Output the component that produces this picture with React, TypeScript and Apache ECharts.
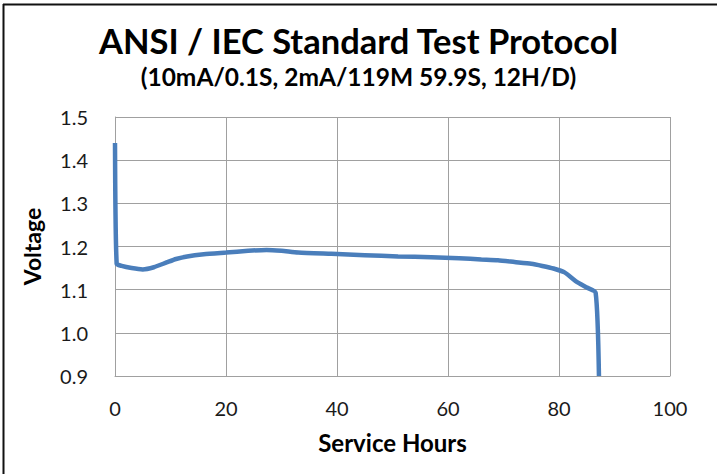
import React, { useEffect, useRef } from "react";
import * as echarts from "echarts";

const titleText = "ANSI / IEC Standard Test Protocol";
const subtitleText = "(10mA/0.1S, 2mA/119M 59.9S, 12H/D)";
const xAxisName = "Service Hours";
const yAxisName = "Voltage";

const hours = [0, 0.3, 1.2, 3, 5, 7, 9.3, 11, 13, 16, 20, 24, 27.3, 30, 33, 39, 45, 51, 57, 62, 66, 69, 72, 75, 77, 79, 81, 83, 85, 86.6, 87.2];
const volts = [1.44, 1.16, 1.155, 1.15, 1.147, 1.152, 1.163, 1.171, 1.177, 1.182, 1.186, 1.19, 1.192, 1.19, 1.186, 1.183, 1.18, 1.177, 1.175, 1.173, 1.17, 1.168, 1.164, 1.16, 1.155, 1.149, 1.14, 1.12, 1.105, 1.093, 0.9];

export default function App() {
  const ref = useRef<HTMLDivElement>(null);
  useEffect(() => {
    if (!ref.current) return;
    const chart = echarts.init(ref.current, null, { renderer: "svg" });
    const data = hours.map((h, i) => [h, volts[i]]);
    chart.setOption({
      animation: false,
      backgroundColor: "#ffffff",
      title: [
        {
          text: titleText,
          left: "center",
          top: 23,
          padding: 0,
          textStyle: { fontFamily: "Lato", fontWeight: "bold", fontSize: 34.5, lineHeight: 34, color: "#000" },
        },
        {
          text: subtitleText,
          left: "center",
          top: 64,
          padding: 0,
          textStyle: { fontFamily: "Lato", fontWeight: "bold", fontSize: 24.5, lineHeight: 24, color: "#000" },
        },
      ],
      graphic: [
        { type: "line", shape: { x1: 3.5, y1: 4, x2: 3.5, y2: 474 }, style: { stroke: "#111", lineWidth: 2 } },
        { type: "line", shape: { x1: 3, y1: 4.5, x2: 717, y2: 4.5 }, style: { stroke: "#111", lineWidth: 2 } },
      ],
      grid: { left: 115, top: 117, width: 555, height: 259, containLabel: false },
      xAxis: {
        type: "value",
        min: 0,
        max: 100,
        interval: 20,
        name: xAxisName,
        nameLocation: "middle",
        nameGap: 54,
        nameTextStyle: { fontFamily: "Lato", fontWeight: "bold", fontSize: 24, color: "#000" },
        axisLine: { show: true, lineStyle: { color: "#a0a0a0", width: 1 } },
        axisTick: { show: false },
        axisLabel: { fontFamily: "Lato", fontSize: 20, color: "#1a1a1a", margin: 22 },
        splitLine: { show: true, lineStyle: { color: "#a0a0a0", width: 1 } },
      },
      yAxis: {
        type: "value",
        min: 0.9,
        max: 1.5,
        interval: 0.1,
        name: yAxisName,
        nameLocation: "middle",
        nameGap: 72,
        nameTextStyle: { fontFamily: "Lato", fontWeight: "bold", fontSize: 23, color: "#000" },
        axisLine: { show: true, lineStyle: { color: "#a0a0a0", width: 1 } },
        axisTick: { show: false },
        axisLabel: {
          fontFamily: "Lato",
          fontSize: 20,
          color: "#1a1a1a",
          margin: 27,
          formatter: (v: number) => v.toFixed(1),
        },
        splitLine: { show: true, lineStyle: { color: "#a0a0a0", width: 1 } },
      },
      series: [
        {
          type: "line",
          data,
          symbol: "none",
          smooth: 0.2,
          lineStyle: { color: "#4a7ebb", width: 4.5 },
        },
      ],
    });
    return () => chart.dispose();
  }, []);
  return (
    <div
      ref={ref}
      style={{ position: "fixed", left: 0, top: 0, width: 717, height: 474, background: "#fff" }}
    />
  );
}
